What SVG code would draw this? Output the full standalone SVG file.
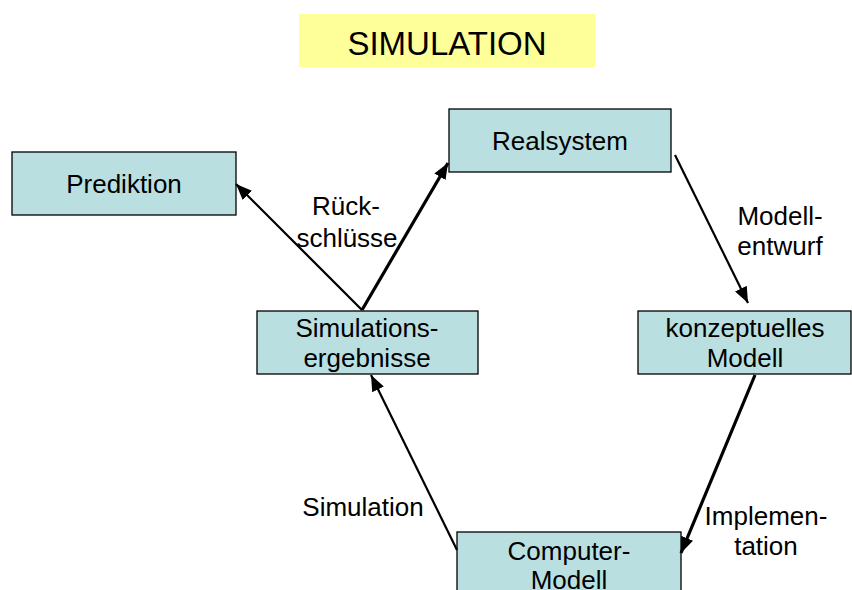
<svg xmlns="http://www.w3.org/2000/svg" width="852" height="590" viewBox="0 0 852 590">
<style>
.box{fill:#B9DFE1;stroke:#000;stroke-width:1.3}
.t{font-family:"Liberation Sans",Arial,sans-serif;font-size:26px;fill:#000;text-anchor:middle}
.c{stroke:#000;fill:none}
</style>
<defs>
<marker id="ah" markerUnits="userSpaceOnUse" markerWidth="17" markerHeight="13" refX="16" refY="6.5" orient="auto" viewBox="0 0 17 13">
<path d="M0,0 L16,6.5 L0,13 Z" fill="#000"/>
</marker>
</defs>
<rect width="852" height="590" fill="#fff"/>
<g id="title">
<rect x="299" y="14" width="296" height="53" fill="#FFFF99"/>
<text x="447" y="55" class="t" style="font-size:33px">SIMULATION</text>
</g>
<g id="prediktion">
<rect class="box" x="12" y="152" width="224" height="63"/>
<text class="t" x="124" y="193">Prediktion</text>
</g>
<g id="realsystem">
<rect class="box" x="449" y="109" width="222" height="63"/>
<text class="t" x="560" y="150">Realsystem</text>
</g>
<g id="simergebnisse">
<rect class="box" x="257" y="311" width="221" height="63"/>
<text class="t" x="367" y="337">Simulations-</text>
<text class="t" x="367" y="367">ergebnisse</text>
</g>
<g id="konzeptuell">
<rect class="box" x="638" y="311" width="213" height="63"/>
<text class="t" x="745" y="337">konzeptuelles</text>
<text class="t" x="745" y="367">Modell</text>
</g>
<g id="computermodell">
<rect class="box" x="457" y="532" width="224" height="80"/>
<text class="t" x="569" y="560">Computer-</text>
<text class="t" x="569" y="589">Modell</text>
</g>
<g id="connectors">
<line class="c" x1="362" y1="310" x2="236" y2="184" stroke-width="2.2" marker-end="url(#ah)"/>
<line class="c" x1="362" y1="310" x2="448" y2="163" stroke-width="3.2" marker-end="url(#ah)"/>
<line class="c" x1="675" y1="155" x2="748" y2="303" stroke-width="2.2" marker-end="url(#ah)"/>
<line class="c" x1="755" y1="375" x2="681" y2="553" stroke-width="3.2" marker-end="url(#ah)"/>
<line class="c" x1="457" y1="550" x2="371" y2="375" stroke-width="2.2" marker-end="url(#ah)"/>
</g>
<g id="labels">
<text class="t" x="346" y="215">Rück-</text>
<text class="t" x="347" y="247">schlüsse</text>
<text class="t" x="780" y="225">Modell-</text>
<text class="t" x="780" y="255">entwurf</text>
<text class="t" x="363" y="516">Simulation</text>
<text class="t" x="766" y="525">Implemen-</text>
<text class="t" x="766" y="555">tation</text>
</g>
</svg>
